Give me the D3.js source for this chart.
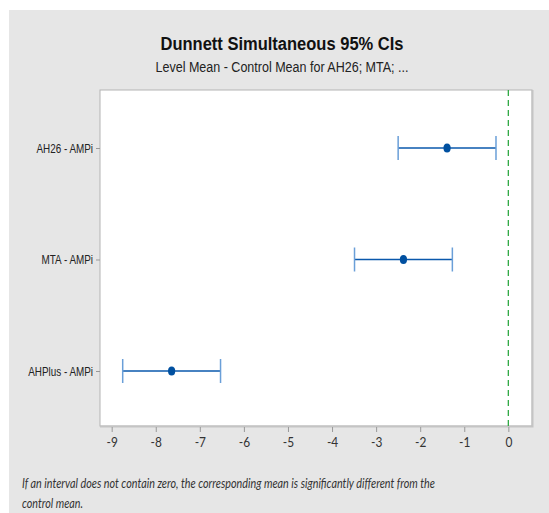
<!DOCTYPE html>
<html>
<head>
<meta charset="utf-8">
<script src="https://cdnjs.cloudflare.com/ajax/libs/d3/7.8.5/d3.min.js"></script>
<style>
  body { margin: 0; background: #fff; }
  .narrow { font-family: "Liberation Sans", Arial, sans-serif; }
  .note { font-family: Lato, "Open Sans", sans-serif; font-style: italic; }
</style>
</head>
<body>
<svg width="549" height="513"></svg>
<script>
// comparisons vs control (AMPi)
var levels = ['AH26 - AMPi', 'MTA - AMPi', 'AHPlus - AMPi'];
var centers = [-1.39, -2.38, -7.64];
var lowers = [-2.50, -3.49, -8.75];
var uppers = [-0.28, -1.27, -6.53];
var xTicks = [-9, -8, -7, -6, -5, -4, -3, -2, -1, 0];

var svg = d3.select('svg');
var plot = {l: 100, r: 532, t: 90, b: 426};

// squeeze text horizontally to mimic a narrow font
function condense(sel, k) {
    sel.each(function() {
        var w = this.getComputedTextLength();
        d3.select(this)
            .attr('textLength', w * k)
            .attr('lengthAdjust', 'spacingAndGlyphs');
    });
}

svg.append('rect')
    .attr('x', 9).attr('y', 10)
    .attr('width', 540).attr('height', 503)
    .attr('fill', '#e6e6e6');

var x = d3.scaleLinear()
    .domain([-9.265, 0.537])
    .range([plot.l, plot.r]);

var y = d3.scalePoint()
    .domain(levels)
    .range([plot.t + 58, plot.b - 55]);

// plot area
svg.append('rect')
    .attr('x', plot.l).attr('y', plot.t)
    .attr('width', plot.r - plot.l).attr('height', plot.b - plot.t)
    .attr('fill', 'white')
    .attr('stroke', '#b4b4b4')
    .attr('stroke-width', 1);

svg.append('path')
    .attr('d', 'M' + (plot.r + 0.5) + ',' + plot.t + 'V' + (plot.b + 0.5) + 'H' + plot.l)
    .attr('fill', 'none')
    .attr('stroke', '#c4c4c4')
    .attr('stroke-width', 2);

// titles
svg.append('text')
    .attr('class', 'narrow')
    .attr('x', 282).attr('y', 50)
    .attr('text-anchor', 'middle')
    .attr('font-size', 18).attr('font-weight', 'bold')
    .attr('fill', '#111')
    .attr('textLength', 243).attr('lengthAdjust', 'spacingAndGlyphs')
    .text('Dunnett Simultaneous 95% CIs');

svg.append('text')
    .attr('class', 'narrow')
    .attr('x', 282).attr('y', 72)
    .attr('text-anchor', 'middle')
    .attr('font-size', 14)
    .attr('fill', '#222')
    .attr('textLength', 253).attr('lengthAdjust', 'spacingAndGlyphs')
    .text('Level Mean - Control Mean for AH26; MTA; ...');

// x axis
var xAxis = svg.append('g')
    .attr('transform', 'translate(0,' + (plot.b + 1) + ')')
    .call(d3.axisBottom(x).tickValues(xTicks).tickSize(5).tickPadding(5)
        .tickFormat(function(d) { return String(d); }));
xAxis.select('.domain').remove();
xAxis.selectAll('line').attr('stroke', '#999');
xAxis.selectAll('text')
    .attr('font-family', 'Lato, "Open Sans", sans-serif')
    .attr('font-size', 14)
    .attr('fill', '#333')
    .call(condense, 0.85);

// y axis
var yAxis = svg.append('g')
    .attr('transform', 'translate(' + plot.l + ',0)')
    .call(d3.axisLeft(y).tickSize(4).tickPadding(3));
yAxis.select('.domain').remove();
yAxis.selectAll('line').attr('stroke', '#999');
yAxis.selectAll('text')
    .attr('class', 'narrow')
    .attr('font-size', 13)
    .attr('fill', '#222')
    .call(condense, 0.76);

// zero reference line
svg.append('line')
    .attr('x1', x(0)).attr('x2', x(0))
    .attr('y1', plot.t).attr('y2', plot.b)
    .attr('stroke', '#2ea843')
    .attr('stroke-width', 1.3)
    .attr('stroke-dasharray', '6,4');

// intervals
var ci = svg.selectAll('.ci')
    .data(levels)
    .enter()
    .append('g')
    .attr('class', 'ci')
    .attr('transform', function(d) { return 'translate(0,' + y(d) + ')'; });

ci.append('line')
    .attr('x1', function(d, i) { return x(lowers[i]); })
    .attr('x2', function(d, i) { return x(uppers[i]); })
    .attr('stroke', '#0a58ac')
    .attr('stroke-width', 1.6);

ci.selectAll('.cap')
    .data(function(d, i) { return [lowers[i], uppers[i]]; })
    .enter()
    .append('line')
    .attr('x1', function(v) { return x(v); })
    .attr('x2', function(v) { return x(v); })
    .attr('y1', -12).attr('y2', 12)
    .attr('stroke', '#6a9fd8')
    .attr('stroke-width', 1.5);

ci.append('ellipse')
    .attr('cx', function(d, i) { return x(centers[i]); })
    .attr('rx', 3.6).attr('ry', 4.5)
    .attr('fill', '#0050a0');

// footnote
var note = svg.append('text')
    .attr('class', 'note')
    .attr('font-size', 13)
    .attr('fill', '#333');
note.append('tspan')
    .attr('x', 22).attr('y', 488)
    .attr('textLength', 413).attr('lengthAdjust', 'spacingAndGlyphs')
    .text('If an interval does not contain zero, the corresponding mean is significantly different from the');
note.append('tspan')
    .attr('x', 22).attr('y', 508)
    .attr('textLength', 61).attr('lengthAdjust', 'spacingAndGlyphs')
    .text('control mean.');
</script>
</body>
</html>
